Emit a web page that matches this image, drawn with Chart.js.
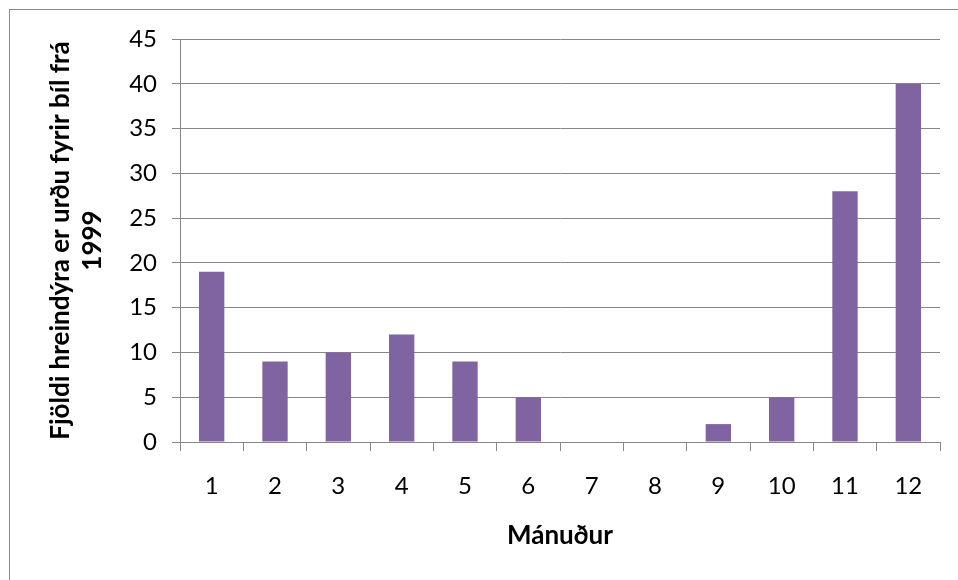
<!DOCTYPE html>
<html>
<head>
<meta charset="utf-8">
<script src="https://cdn.jsdelivr.net/npm/chart.js@4.4.0/dist/chart.umd.min.js"></script>
<style>
html, body { margin: 0; padding: 0; background: #fff; overflow: hidden; }
#wrap { position: relative; width: 958px; height: 580px; }
#frame { position: absolute; left: 9px; top: 9px; width: 1000px; height: 1000px; border: 1px solid #8a8a8a; box-sizing: border-box; }
#myChart { position: absolute; left: 0; top: 0; }
</style>
</head>
<body>
<div id="wrap">
  <div id="frame"></div>
  <canvas id="myChart" width="958" height="580"></canvas>
</div>
<script>
// 月
const months = ['1', '2', '3', '4', '5', '6', '7', '8', '9', '10', '11', '12'];
// 頭数
const counts = [19, 9, 10, 12, 9, 5, 0, 0, 2, 5, 28, 40];
// 軸タイトル
const xTitle = 'Mánuður';
const yTitle = ['Fjöldi hreindýra er urðu fyrir bíl frá', '1999'];

const gridColor = '#868686';
const fontFamily = 'Lato, "Open Sans", sans-serif';

const data = {
    labels: months,
    datasets: [{
        label: 'Fjöldi',
        backgroundColor: '#8064A2',
        borderWidth: 0,
        data: counts,
        barPercentage: 0.4,
        categoryPercentage: 1.0,
    }]
};

const config = {
    type: 'bar',
    data: data,
    options: {
        responsive: false,
        animation: false,
        devicePixelRatio: 1,
        layout: { padding: { left: 10, top: 39, right: 18, bottom: 0 } },
        plugins: {
            legend: { display: false },
            tooltip: { enabled: false }
        },
        scales: {
            x: {
                afterFit: function (s) { s.height = 138; },
                grid: { drawOnChartArea: false, tickLength: 9, color: gridColor, lineWidth: 1 },
                border: { color: gridColor, width: 1 },
                ticks: { color: '#000', font: { family: fontFamily, size: 24 }, padding: 21 },
                title: {
                    display: true,
                    text: xTitle,
                    color: '#000',
                    font: { family: fontFamily, size: 26, weight: 'bold', lineHeight: 1.2 },
                    padding: { top: 0, bottom: 29 }
                }
            },
            y: {
                min: 0,
                max: 45,
                afterFit: function (s) { s.width = 170; },
                grid: { tickLength: 8, color: gridColor, lineWidth: 1 },
                border: { color: gridColor, width: 1 },
                ticks: { stepSize: 5, color: '#000', font: { family: fontFamily, size: 24 }, padding: 15 },
                title: {
                    display: true,
                    text: yTitle,
                    color: '#000',
                    font: { family: fontFamily, size: 26, weight: 'bold', lineHeight: 1.25 },
                    padding: { top: 34, bottom: 0 }
                }
            }
        }
    }
};

const myChart = new Chart(document.getElementById('myChart'), config);
</script>
</body>
</html>
